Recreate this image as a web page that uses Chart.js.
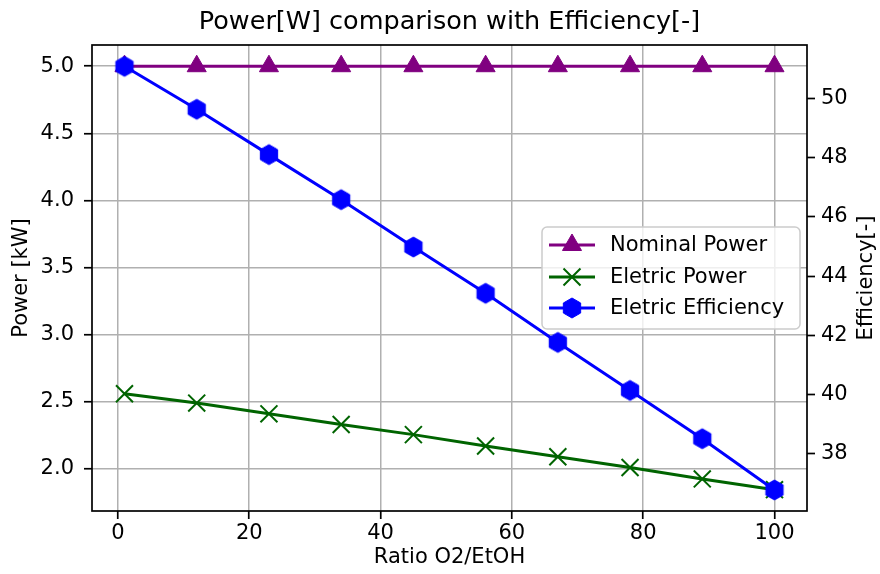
<!DOCTYPE html>
<html>
<head>
<meta charset="utf-8">
<script src="https://cdn.jsdelivr.net/npm/chart.js@4.4.1/dist/chart.umd.min.js"></script>
<style>
  html, body { margin: 0; padding: 0; background: #fff; }
  #wrap { width: 880px; height: 574px; position: relative; }
</style>
</head>
<body>
<div id="wrap"><canvas id="grafico"></canvas></div>
<script>
// Datos
const ratio = [1, 12, 23, 34, 45, 56, 67, 78, 89, 100];
const potenciaNominal = [5, 5, 5, 5, 5, 5, 5, 5, 5, 5];
const potenciaElectrica = [2.56, 2.49, 2.41, 2.33, 2.255, 2.17, 2.09, 2.01, 1.925, 1.845];
const eficiencia = [51.08, 49.63, 48.10, 46.58, 44.98, 43.42, 41.76, 40.14, 38.51, 36.78];

const ticksX = [0, 20, 40, 60, 80, 100];
const ticksPotencia = [2.0, 2.5, 3.0, 3.5, 4.0, 4.5, 5.0];
const ticksEficiencia = [38, 40, 42, 44, 46, 48, 50];

const TITULO = "Power[W] comparison with Efficiency[-]";
const ETIQUETA_X = "Ratio O2/EtOH";
const ETIQUETA_Y1 = "Power [kW]";
const ETIQUETA_Y2 = "Efficiency[-]";

const FUENTE = "'DejaVu Sans', sans-serif";
const TAM = 21;
const COLOR_GRILLA = "#b0b0b0";
const PURPURA = "#800080";
const VERDE = "#006400";
const AZUL = "#0000ff";

Chart.defaults.font.family = FUENTE;
Chart.defaults.font.size = TAM;
Chart.defaults.color = "#000";

// hexágono (marcador 'h' de matplotlib) como imagen de punto
function hexagono(radio, color) {
  const c = document.createElement("canvas");
  const lado = Math.ceil(radio * 2 + 4);
  c.width = lado; c.height = lado;
  const g = c.getContext("2d");
  g.beginPath();
  for (let i = 0; i < 6; i++) {
    const a = -Math.PI / 2 + i * Math.PI / 3;
    const px = lado / 2 + radio * Math.cos(a), py = lado / 2 + radio * Math.sin(a);
    i ? g.lineTo(px, py) : g.moveTo(px, py);
  }
  g.closePath();
  g.fillStyle = color; g.fill();
  g.strokeStyle = color; g.lineWidth = 1; g.stroke();
  return c;
}
const marcadorHex = hexagono(10, AZUL);

const pares = (ys) => ratio.map((x, i) => ({ x, y: ys[i] }));

function fijarTicks(valores) {
  return (escala) => { escala.ticks = valores.map(v => ({ value: v })); };
}

// título, etiqueta derecha, marco y leyenda dibujados a mano
const extras = {
  id: "extras",
  afterDatasetsDraw(chart) {
    const { ctx, chartArea: a } = chart;
    ctx.save();
    ctx.strokeStyle = "#000";
    ctx.lineWidth = 1.7;
    ctx.strokeRect(a.left, a.top, a.right - a.left, a.bottom - a.top);
    ctx.restore();
  },
  afterDraw(chart) {
    const { ctx, chartArea: a } = chart;
    ctx.save();
    ctx.fillStyle = "#000";
    ctx.textAlign = "center";
    ctx.textBaseline = "middle";
    ctx.font = "25.5px " + FUENTE;
    ctx.fillText(TITULO, (a.left + a.right) / 2, 22);

    ctx.font = TAM + "px " + FUENTE;
    ctx.translate(867, (a.top + a.bottom) / 2);
    ctx.rotate(-Math.PI / 2);
    ctx.fillText(ETIQUETA_Y2, 0, 0);
    ctx.restore();

    // leyenda
    const caja = { x: 542, y: 227, w: 258, h: 102 };
    ctx.save();
    ctx.beginPath();
    ctx.roundRect(caja.x, caja.y, caja.w, caja.h, 5);
    ctx.fillStyle = "rgba(255,255,255,0.8)";
    ctx.fill();
    ctx.strokeStyle = "#cccccc";
    ctx.lineWidth = 1.5;
    ctx.stroke();
    const filas = [245, 277, 308];
    chart.data.datasets.forEach((ds, i) => {
      const y = filas[i];
      ctx.strokeStyle = ds.borderColor;
      ctx.lineWidth = ds.borderWidth;
      ctx.beginPath();
      ctx.moveTo(549, y); ctx.lineTo(595, y); ctx.stroke();
      ctx.fillStyle = ds.pointBackgroundColor;
      ctx.strokeStyle = ds.pointBorderColor;
      ctx.lineWidth = ds.pointBorderWidth;
      Chart.helpers.drawPoint(ctx, {
        pointStyle: ds.pointStyle, radius: ds.pointRadius, rotation: 0,
        borderWidth: ds.pointBorderWidth
      }, 572, y);
      ctx.fillStyle = "#000";
      ctx.font = TAM + "px " + FUENTE;
      ctx.textAlign = "left";
      ctx.textBaseline = "middle";
      ctx.fillText(ds.label, 610, y + 1);
    });
    ctx.restore();
  }
};

new Chart(document.getElementById("grafico"), {
  type: "line",
  data: {
    datasets: [
      {
        label: "Nominal Power",
        data: pares(potenciaNominal),
        yAxisID: "y",
        borderColor: PURPURA, backgroundColor: PURPURA,
        pointBackgroundColor: PURPURA, pointBorderColor: PURPURA,
        borderWidth: 3, pointStyle: "triangle", pointRadius: 11, pointBorderWidth: 1,
        order: 3,
      },
      {
        label: "Eletric Power",
        data: pares(potenciaElectrica),
        yAxisID: "y",
        borderColor: VERDE, backgroundColor: VERDE,
        pointBackgroundColor: VERDE, pointBorderColor: VERDE,
        borderWidth: 3, pointStyle: "crossRot", pointRadius: 12, pointBorderWidth: 2,
        order: 2,
      },
      {
        label: "Eletric Efficiency",
        data: pares(eficiencia),
        yAxisID: "y2",
        borderColor: AZUL, backgroundColor: AZUL,
        pointBackgroundColor: AZUL, pointBorderColor: AZUL,
        borderWidth: 3, pointStyle: marcadorHex, pointRadius: 10, pointBorderWidth: 1,
        order: 1,
      },
    ],
  },
  options: {
    responsive: true,
    maintainAspectRatio: false,
    animation: false,
    layout: { padding: { top: 45, left: 0, right: 0, bottom: 0 } },
    plugins: { legend: { display: false }, tooltip: { enabled: false } },
    scales: {
      x: {
        type: "linear",
        min: -3.95, max: 104.95,
        afterBuildTicks: fijarTicks(ticksX),
        afterFit: (s) => { s.height = 63; },
        grid: { color: COLOR_GRILLA, lineWidth: 1.5, tickColor: "#000", tickWidth: 1.7, tickLength: 8 },
        border: { display: false },
        ticks: { padding: 2, maxRotation: 0, font: { size: TAM }, color: "#000" },
        title: { display: true, text: ETIQUETA_X, font: { size: TAM }, padding: { top: 0, bottom: 4 }, color: "#000" },
      },
      y: {
        type: "linear",
        position: "left",
        min: 1.686, max: 5.158,
        afterBuildTicks: fijarTicks(ticksPotencia),
        afterFit: (s) => { s.width = 92; },
        grid: { color: COLOR_GRILLA, lineWidth: 1.5, tickColor: "#000", tickWidth: 1.7, tickLength: 8 },
        border: { display: false },
        ticks: { padding: 10, font: { size: TAM }, color: "#000", callback: (v) => v.toFixed(1) },
        title: { display: true, text: ETIQUETA_Y1, font: { size: TAM }, padding: { top: 9, bottom: 0 }, color: "#000" },
      },
      y2: {
        type: "linear",
        position: "right",
        min: 36.07, max: 51.8,
        afterBuildTicks: fijarTicks(ticksEficiencia),
        afterFit: (s) => { s.width = 73; },
        grid: { drawOnChartArea: false, tickColor: "#000", tickWidth: 1.7, tickLength: 8 },
        border: { display: false },
        ticks: { padding: 6, font: { size: TAM }, color: "#000", callback: (v) => String(v) },
      },
    },
  },
  plugins: [extras],
});
</script>
</body>
</html>
